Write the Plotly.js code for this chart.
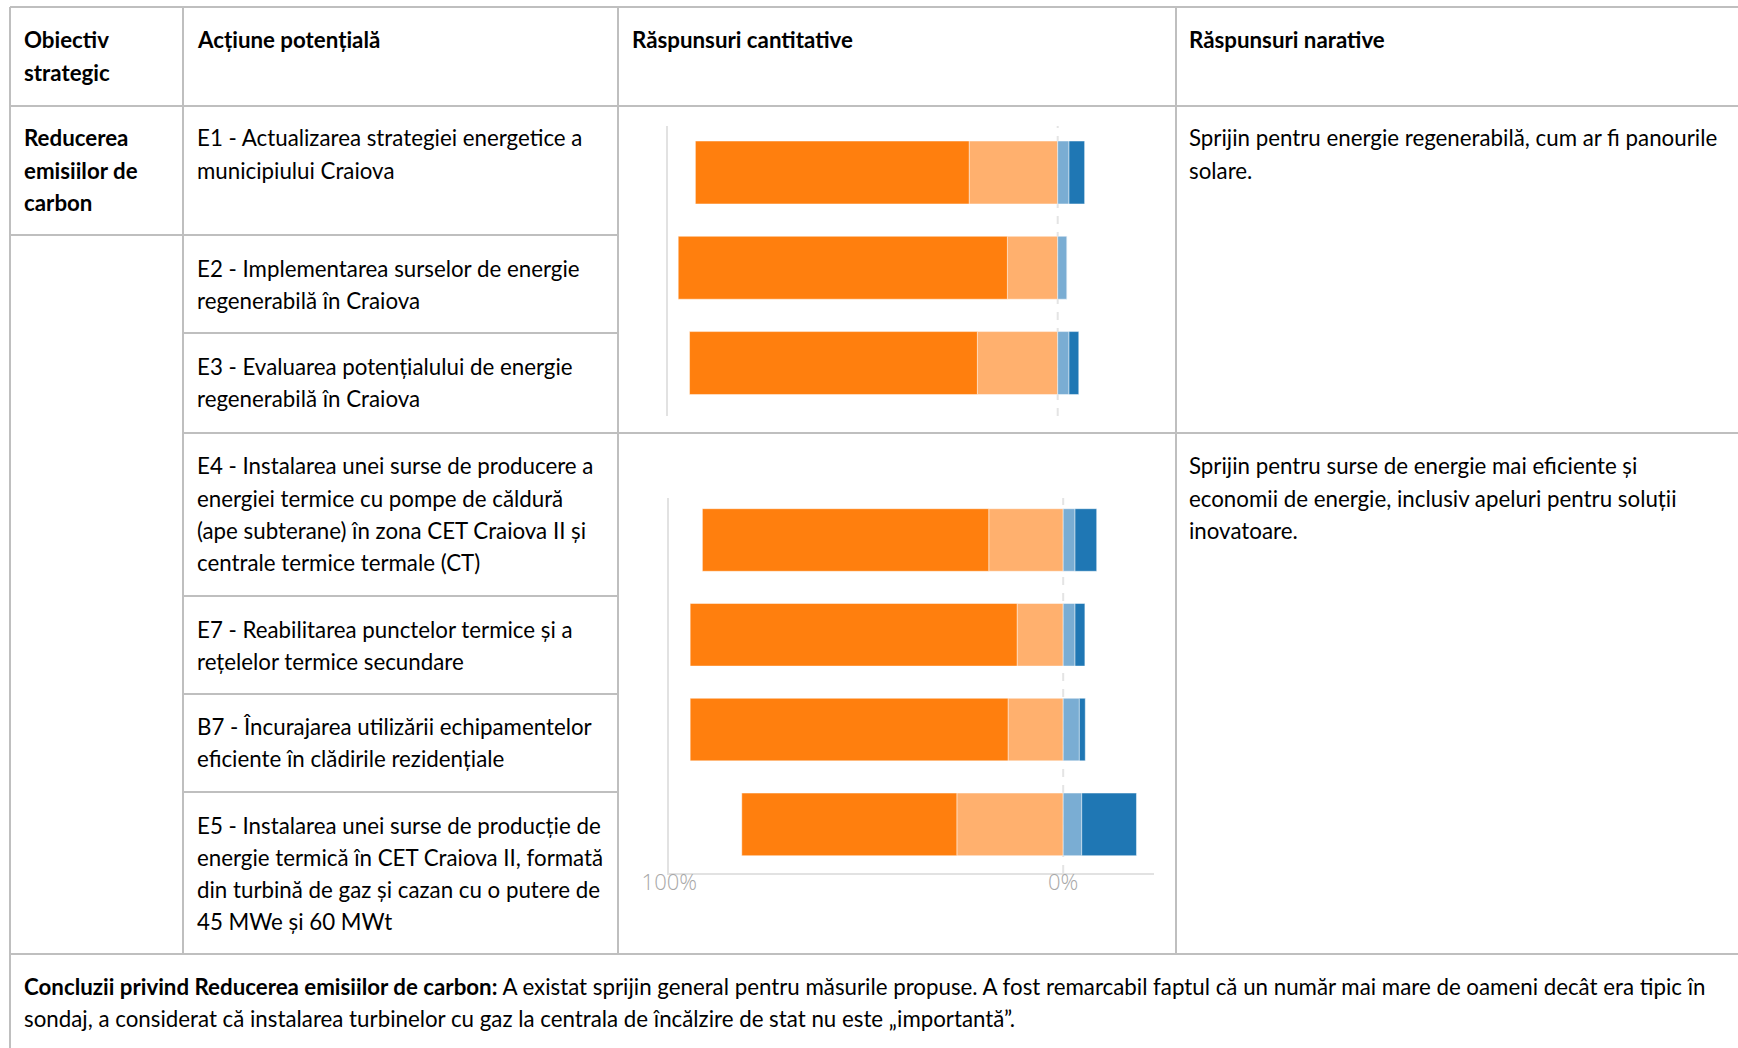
<!DOCTYPE html>
<html>
<head>
<meta charset="utf-8">
<script src="https://cdn.plot.ly/plotly-3.0.1.min.js"></script>
<style>
  html, body { margin: 0; padding: 0; background: #fff; }
  #chart { width: 1738px; height: 1048px; }
</style>
</head>
<body>
<div id="chart"></div>
<script>
// ---------------- DATA ----------------
const columnHeaders = [
  ["Obiectiv", "strategic"],
  ["Acțiune potențială"],
  ["Răspunsuri cantitative"],
  ["Răspunsuri narative"]
];
const objectiveLines = ["Reducerea", "emisiilor de", "carbon"];

const actionLabels = [
  ["E1 - Actualizarea strategiei energetice a", "municipiului Craiova"],
  ["E2 - Implementarea surselor de energie", "regenerabilă în Craiova"],
  ["E3 - Evaluarea potențialului de energie", "regenerabilă în Craiova"],
  ["E4 - Instalarea unei surse de producere a", "energiei termice cu pompe de căldură", "(ape subterane) în zona CET Craiova II și", "centrale termice termale (CT)"],
  ["E7 - Reabilitarea punctelor termice și a", "rețelelor termice secundare"],
  ["B7 - Încurajarea utilizării echipamentelor", "eficiente în clădirile rezidențiale"],
  ["E5 - Instalarea unei surse de producție de", "energie termică în CET Craiova II, formată", "din turbină de gaz și cazan cu o putere de", "45 MWe și 60 MWt"]
];

const narrativeGroup1 = ["Sprijin pentru energie regenerabilă, cum ar fi panourile", "solare."];
const narrativeGroup2 = ["Sprijin pentru surse de energie mai eficiente și", "economii de energie, inclusiv apeluri pentru soluții", "inovatoare."];

const conclusionLines = [
  "<b>Concluzii privind Reducerea emisiilor de carbon:</b> A existat sprijin general pentru măsurile propuse. A fost remarcabil faptul că un număr mai mare de oameni decât era tipic în",
  "sondaj, a considerat că instalarea turbinelor cu gaz la centrala de încălzire de stat nu este „importantă”."
];

// Chart 1 (group 1 actions)
const chart1Categories = ["E1", "E2", "E3"];
const chart1VeryImportant = [70.2, 84.4, 73.8];
const chart1Important     = [22.7, 12.9, 20.6];
const chart1LessImportant = [2.9, 2.4, 2.9];
const chart1NotImportant  = [4.0, 0.0, 2.5];

// Chart 2 (group 2 actions)
const chart2Categories = ["E4", "E7", "B7", "E5"];
const chart2VeryImportant = [72.7, 83.0, 80.7, 54.6];
const chart2Important     = [18.9, 11.7, 14.0, 27.0];
const chart2LessImportant = [3.0, 3.0, 4.1, 4.7];
const chart2NotImportant  = [5.5, 2.5, 1.5, 13.9];

const tickValues = [-100, 0];
const tickLabels = ["100%", "0%"];

// ---------------- STYLE / LAYOUT ----------------
const W = 1738, H = 1048;
const px = v => v / W;
const py = v => 1 - v / H;

const FONT = "Lato, 'Open Sans', sans-serif";
const FS = 22.3;
const LINE = 32.2;
const GRID = "#bfbfbf";

const COLORS = {
  veryImportant: "#ff7f0e",
  important: "#ffb06e",
  lessImportant: "#7aadd3",
  notImportant: "#1f77b4"
};

function barTraces(cats, very, imp, less, not, xa, ya) {
  const common = {
    type: "bar", orientation: "h", y: cats, xaxis: xa, yaxis: ya,
    showlegend: false, hoverinfo: "skip"
  };
  const line = { width: 1, color: "rgba(255,255,255,0.45)" };
  return [
    Object.assign({}, common, { name: "Important", x: imp.map(v => -v), marker: { color: COLORS.important, line } }),
    Object.assign({}, common, { name: "Foarte important", x: very.map(v => -v), marker: { color: COLORS.veryImportant, line } }),
    Object.assign({}, common, { name: "Puțin important", x: less, marker: { color: COLORS.lessImportant, line } }),
    Object.assign({}, common, { name: "Neimportant", x: not, marker: { color: COLORS.notImportant, line } })
  ];
}

const data = [].concat(
  barTraces(chart1Categories, chart1VeryImportant, chart1Important, chart1LessImportant, chart1NotImportant, "x", "y"),
  barTraces(chart2Categories, chart2VeryImportant, chart2Important, chart2LessImportant, chart2NotImportant, "x2", "y2")
);

// Table lines
const shapes = [];
function hLine(y, x0, x1) {
  shapes.push({ type: "line", xref: "paper", yref: "paper", x0: px(x0), x1: px(x1), y0: py(y), y1: py(y), line: { color: GRID, width: 2 } });
}
function vLine(x, y0, y1) {
  shapes.push({ type: "line", xref: "paper", yref: "paper", x0: px(x), x1: px(x), y0: py(y0), y1: py(y1), line: { color: GRID, width: 2 } });
}
hLine(7, 10, W);
hLine(106, 10, W);
hLine(235, 10, 618);
hLine(333, 183, 618);
hLine(433, 183, W);
hLine(596, 183, 618);
hLine(694, 183, 618);
hLine(792, 183, 618);
hLine(954, 10, W);
vLine(10, 7, H);
vLine(183, 7, 954);
vLine(618, 7, 954);
vLine(1176, 7, 954);

// dashed zero lines through the axes' own scale
[["x", "y"], ["x2", "y2"]].forEach(([xa, ya]) => {
  shapes.push({ type: "line", xref: xa, yref: ya + " domain", x0: 0, x1: 0, y0: 0, y1: 1,
    layer: "below", line: { color: "#e4e4e4", width: 2, dash: "8px,8px" } });
});

// Text annotations
const annotations = [];
function textLines(lines, x, yFirst, bold) {
  lines.forEach((t, i) => {
    annotations.push({
      xref: "paper", yref: "paper", x: px(x), y: py(yFirst + i * LINE),
      xanchor: "left", yanchor: "middle", showarrow: false, align: "left",
      text: bold ? "<b>" + t + "</b>" : t,
      font: { family: FONT, size: FS, color: "#000" }
    });
  });
}
textLines(columnHeaders[0], 22, 40, true);
textLines(columnHeaders[1], 195, 40, true);
textLines(columnHeaders[2], 630, 40, true);
textLines(columnHeaders[3], 1187, 40, true);
textLines(objectiveLines, 22, 138, true);
const actionY = [138, 268, 366, 466, 629, 726, 825];
actionLabels.forEach((lines, i) => textLines(lines, 195, actionY[i], false));
textLines(narrativeGroup1, 1187, 138, false);
textLines(narrativeGroup2, 1187, 466, false);
textLines(conclusionLines, 22, 986, false);

const axisLine = "#e2e2e2";
const layout = {
  width: W, height: H,
  margin: { l: 0, r: 0, t: 0, b: 0, pad: 0 },
  paper_bgcolor: "#fff", plot_bgcolor: "rgba(0,0,0,0)",
  barmode: "relative", bargap: 0.34,
  showlegend: false,
  xaxis: {
    domain: [px(667.7), px(1147.4)], range: [-100, 23], anchor: "y",
    showgrid: false, zeroline: false, showline: false, showticklabels: false, ticks: ""
  },
  yaxis: {
    domain: [py(416), py(126)], range: [2.556, -0.488], anchor: "x", type: "category",
    showgrid: false, zeroline: false, showline: true, linecolor: axisLine, linewidth: 2,
    showticklabels: false, ticks: ""
  },
  xaxis2: {
    domain: [px(669.3), px(1153.8)], range: [-100, 23], anchor: "y2",
    showgrid: false, zeroline: false, showline: true, linecolor: axisLine, linewidth: 2,
    tickvals: tickValues, ticktext: tickLabels, ticks: "", ticklabelstandoff: -11,
    tickfont: { family: "'Open Sans', sans-serif", size: 22, color: "#a8a8a8", weight: 300 }
  },
  yaxis2: {
    domain: [py(873), py(498)], range: [3.513, -0.443], anchor: "x2", type: "category",
    showgrid: false, zeroline: false, showline: true, linecolor: axisLine, linewidth: 2,
    showticklabels: false, ticks: ""
  },
  shapes, annotations
};

Plotly.newPlot("chart", data, layout, { staticPlot: true, displayModeBar: false });
</script>
</body>
</html>
